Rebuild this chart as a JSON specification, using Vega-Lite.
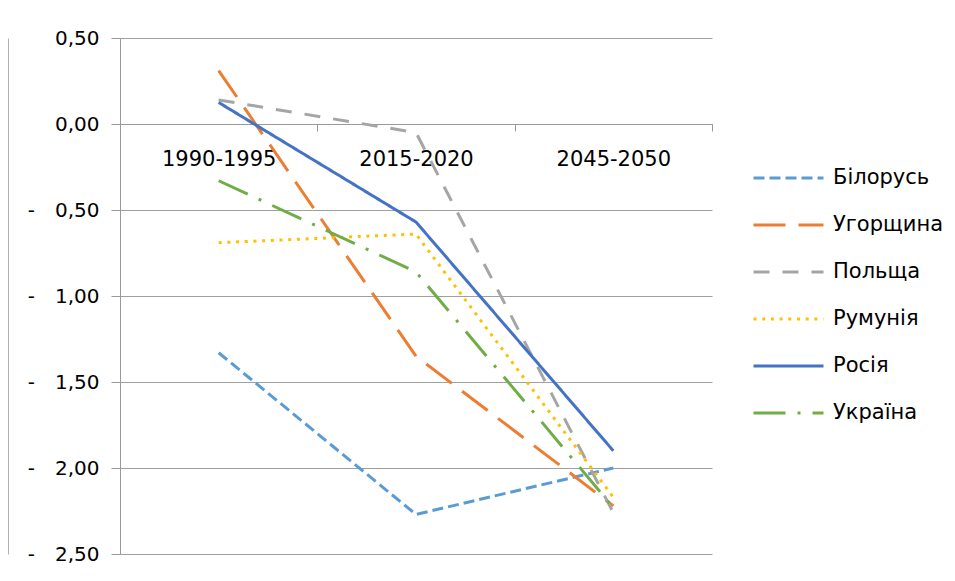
{
  "$schema": "https://vega.github.io/schema/vega-lite/v6.json",
  "width": 592,
  "height": 516,
  "autosize": {"type": "none"},
  "padding": {"left": 120, "top": 38, "right": 243, "bottom": 27},
  "background": "white",
  "config": {
    "view": {"stroke": null},
    "font": "DejaVu Sans"
  },
  "data": {
    "values": [
      {"country": "Білорусь", "period": "1990-1995", "value": -1.33},
      {"country": "Білорусь", "period": "2015-2020", "value": -2.27},
      {"country": "Білорусь", "period": "2045-2050", "value": -2.0},
      {"country": "Угорщина", "period": "1990-1995", "value": 0.31},
      {"country": "Угорщина", "period": "2015-2020", "value": -1.35},
      {"country": "Угорщина", "period": "2045-2050", "value": -2.22},
      {"country": "Польща", "period": "1990-1995", "value": 0.14},
      {"country": "Польща", "period": "2015-2020", "value": -0.05},
      {"country": "Польща", "period": "2045-2050", "value": -2.26},
      {"country": "Румунія", "period": "1990-1995", "value": -0.69},
      {"country": "Румунія", "period": "2015-2020", "value": -0.64},
      {"country": "Румунія", "period": "2045-2050", "value": -2.17},
      {"country": "Росія", "period": "1990-1995", "value": 0.125},
      {"country": "Росія", "period": "2015-2020", "value": -0.57},
      {"country": "Росія", "period": "2045-2050", "value": -1.9},
      {"country": "Україна", "period": "1990-1995", "value": -0.33},
      {"country": "Україна", "period": "2015-2020", "value": -0.86},
      {"country": "Україна", "period": "2045-2050", "value": -2.23}
    ]
  },
  "resolve": {"axis": {"y": "independent"}},
  "layer": [
    {
      "mark": {"type": "line", "strokeWidth": 3, "strokeJoin": "round"},
      "encoding": {
        "x": {
          "field": "period",
          "type": "nominal",
          "sort": ["1990-1995", "2015-2020", "2045-2050"],
          "scale": {"paddingInner": 0, "paddingOuter": 0},
          "axis": {
            "title": null,
            "orient": "bottom",
            "offset": -430,
            "labelAngle": 0,
            "labelFontSize": 21,
            "labelColor": "black",
            "labelPadding": 17,
            "domainColor": "#999999",
            "domainWidth": 1.2,
            "tickColor": "#999999",
            "tickSize": 7,
            "tickBand": "extent",
            "grid": false
          }
        },
        "y": {
          "field": "value",
          "type": "quantitative",
          "scale": {"domain": [-2.5, 0.5], "nice": false, "zero": false},
          "axis": {
            "title": null,
            "orient": "left",
            "values": [-2.5, -2, -1.5, -1, -0.5, 0, 0.5],
            "labelExpr": "datum.value < 0 ? '-\u2003' + replace(format(abs(datum.value), '.2f'), '.', ',') : replace(format(datum.value, '.2f'), '.', ',')",
            "labelFontSize": 20,
            "labelColor": "black",
            "labelPadding": 12,
            "domainColor": "#999999",
            "tickColor": "#999999",
            "tickSize": 9,
            "gridColor": "#a0a0a0",
            "gridWidth": 1.2
          }
        },
        "color": {
          "field": "country",
          "type": "nominal",
          "sort": ["Білорусь", "Угорщина", "Польща", "Румунія", "Росія", "Україна"],
          "scale": {
            "domain": ["Білорусь", "Угорщина", "Польща", "Румунія", "Росія", "Україна"],
            "range": ["#5B9BD5", "#ED7D31", "#A5A5A5", "#FFC000", "#4472C4", "#70AD47"]
          },
          "legend": {
            "title": null,
            "orient": "none",
            "legendX": 632,
            "legendY": 130,
            "symbolType": "M-1,0H1",
            "symbolSize": 4900,
            "symbolStrokeWidth": 3,
            "clipHeight": 20,
            "rowPadding": 26,
            "labelFontSize": 21,
            "labelColor": "black",
            "labelOffset": 8,
            "padding": 0
          }
        },
        "strokeDash": {
          "field": "country",
          "type": "nominal",
          "sort": ["Білорусь", "Угорщина", "Польща", "Румунія", "Росія", "Україна"],
          "scale": {
            "domain": ["Білорусь", "Угорщина", "Польща", "Румунія", "Росія", "Україна"],
            "range": [[11, 5], [32, 13], [16, 13], [3, 5.7], [1, 0], [32, 12, 3, 12]]
          },
          "legend": null
        }
      }
    },
    {
      "mark": {"type": "line", "opacity": 0},
      "encoding": {
        "x": {
          "field": "period",
          "type": "nominal",
          "sort": ["1990-1995", "2015-2020", "2045-2050"]
        },
        "y": {
          "field": "value",
          "type": "quantitative",
          "scale": {"domain": [-2.5, 0.5], "nice": false, "zero": false},
          "axis": {
            "title": null,
            "orient": "left",
            "offset": 112,
            "labels": false,
            "ticks": false,
            "grid": false,
            "domainColor": "#b0b0b0"
          }
        }
      }
    }
  ]
}
